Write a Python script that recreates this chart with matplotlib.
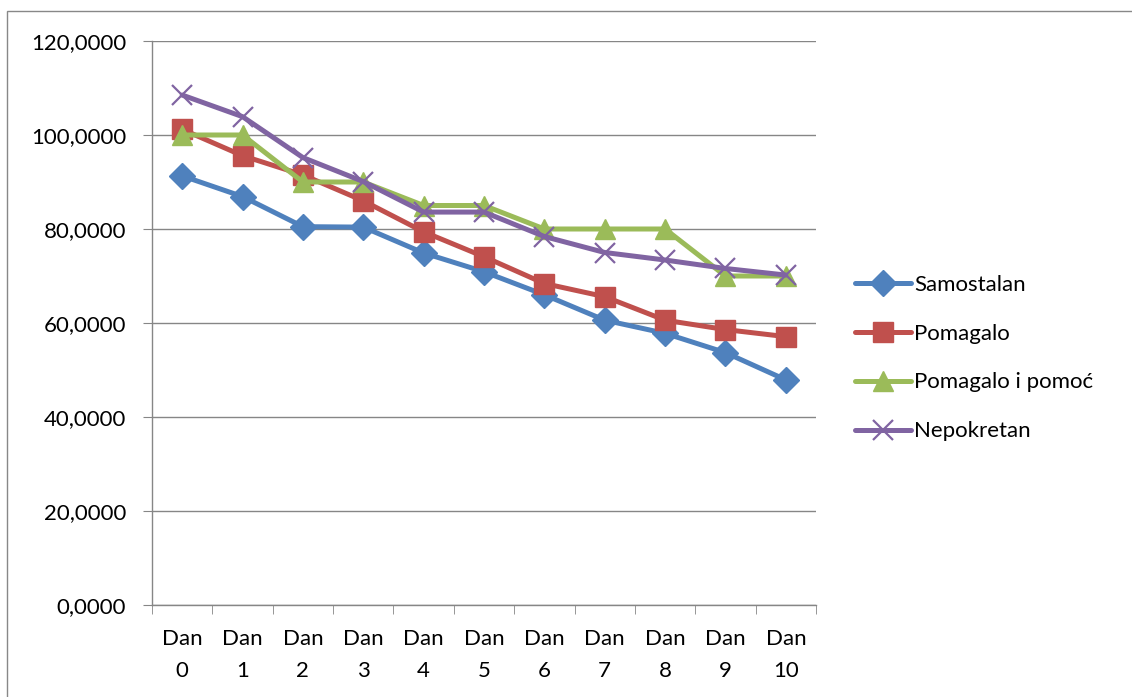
import matplotlib
matplotlib.use("Agg")
import matplotlib.pyplot as plt
from matplotlib.ticker import FuncFormatter, FixedLocator
from matplotlib.patches import Rectangle

categories = ["Dan\n0", "Dan\n1", "Dan\n2", "Dan\n3", "Dan\n4", "Dan\n5",
              "Dan\n6", "Dan\n7", "Dan\n8", "Dan\n9", "Dan\n10"]
samostalan = [91.3, 86.9, 80.5, 80.4, 74.9, 70.9, 66.0, 60.6, 57.8, 53.7, 47.9]
pomagalo = [101.2, 95.6, 91.5, 86.0, 79.4, 74.1, 68.4, 65.6, 60.6, 58.6, 57.1]
pomagalo_pomoc = [100.0, 100.0, 90.0, 90.0, 85.0, 85.0, 80.0, 80.0, 80.0, 70.0, 70.0]
nepokretan = [108.5, 103.9, 95.2, 90.1, 83.6, 83.6, 78.4, 75.0, 73.4, 71.6, 70.2]
series_names = ["Samostalan", "Pomagalo", "Pomagalo i pomoć", "Nepokretan"]
y_ticks = [0, 20, 40, 60, 80, 100, 120]

plt.rcParams['font.family'] = ['Lato', 'DejaVu Sans']
FS = 16
fig = plt.figure(figsize=(11.32, 6.97), dpi=100)
ax = fig.add_axes([152/1132, 1-605/697, (816-152)/1132, (605-41)/697])

x = list(range(len(categories)))
grid_c = "#868686"
styles = [
    dict(color="#4F81BD", marker="D", markersize=13.5),
    dict(color="#C0504D", marker="s", markersize=14),
    dict(color="#9BBB59", marker="^", markersize=15),
    dict(color="#8064A2", marker="x", markersize=14, markeredgewidth=1.6),
]
for vals, name, st in zip([samostalan, pomagalo, pomagalo_pomoc, nepokretan], series_names, styles):
    ax.plot(x, vals, lw=3.6, label=name, solid_joinstyle='round', solid_capstyle='round', **st)

ax.set_xlim(-0.5, len(categories) - 0.5)
ax.set_ylim(0, 120)
ax.set_yticks(y_ticks)
ax.yaxis.set_major_formatter(FuncFormatter(lambda v, p: f"{v:.4f}".replace('.', ',')))
ax.set_xticks(x)
ax.set_xticklabels(categories, fontsize=FS, linespacing=1.75)
ax.xaxis.set_minor_locator(FixedLocator([i - 0.5 for i in range(len(categories) + 1)]))
ax.tick_params(axis='x', which='major', length=0, pad=17)
ax.tick_params(axis='x', which='minor', length=6.5, color=grid_c, direction='out')
ax.tick_params(axis='y', length=6.5, color=grid_c, labelsize=FS, pad=12)
ax.yaxis.grid(True, color=grid_c, lw=1)
ax.set_axisbelow(True)
for s in ['top', 'right']:
    ax.spines[s].set_visible(False)
for s in ['left', 'bottom']:
    ax.spines[s].set_color(grid_c)
    ax.spines[s].set_linewidth(1)

leg = fig.legend(loc='center left', bbox_to_anchor=(855/1132, 1-358/697), frameon=False,
                 fontsize=FS, handlelength=2.5, handletextpad=0.15, labelspacing=1.3,
                 borderpad=0, borderaxespad=0)

fig.patches.append(Rectangle((7/1132, -0.1), 1.2, 1.1 - 11/697, transform=fig.transFigure,
                             fill=False, edgecolor="#888888", lw=1))

fig.savefig("out.png", dpi=100)
